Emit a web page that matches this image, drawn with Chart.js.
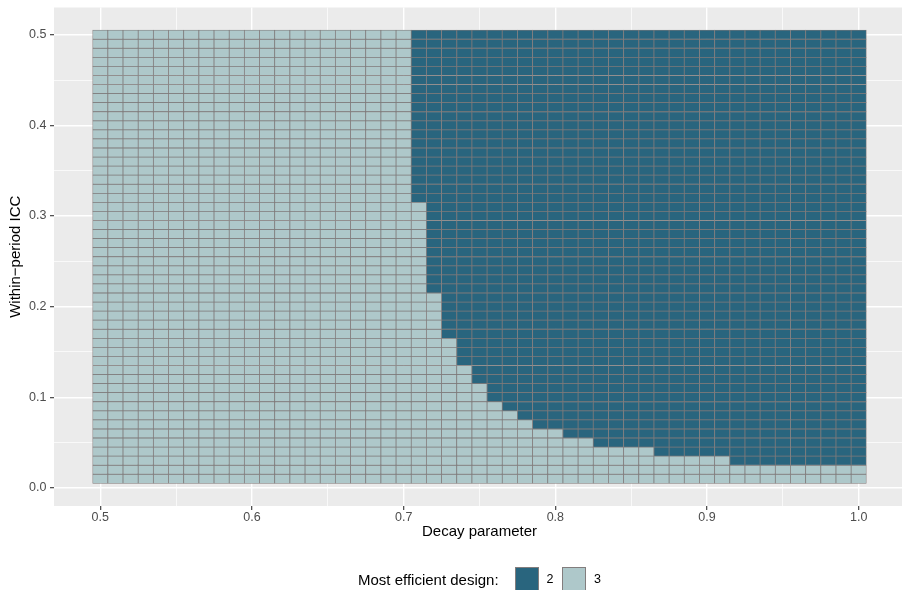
<!DOCTYPE html>
<html>
<head>
<meta charset="utf-8">
<script src="https://cdn.jsdelivr.net/npm/chart.js@4"></script>
<style>
    html, body { margin: 0; padding: 0; background: #ffffff; overflow: hidden; }
    #wrap { position: relative; width: 906px; height: 590px; font-family: "Liberation Sans", Arial, sans-serif; }
    .lg { position: absolute; white-space: nowrap; line-height: 1; color: #000000; }
    .key { position: absolute; top: 567px; width: 24px; height: 24px; box-sizing: border-box; border: 1px solid #827d7d; }
</style>
</head>
<body>
<div id="wrap">
    <canvas id="tiles" width="906" height="590"></canvas>
    <div class="lg" style="left:358px; top:572px; font-size:15px;">Most efficient design:</div>
    <div class="key" id="key_2" style="left:515px;"></div>
    <div class="lg" style="left:546.5px; top:573px; font-size:12.5px;">2</div>
    <div class="key" id="key_3" style="left:562px;"></div>
    <div class="lg" style="left:594px; top:573px; font-size:12.5px;">3</div>
</div>
<script>
// Tile centres
const decay = [0.50, 0.51, 0.52, 0.53, 0.54, 0.55, 0.56, 0.57, 0.58, 0.59,
               0.60, 0.61, 0.62, 0.63, 0.64, 0.65, 0.66, 0.67, 0.68, 0.69,
               0.70, 0.71, 0.72, 0.73, 0.74, 0.75, 0.76, 0.77, 0.78, 0.79,
               0.80, 0.81, 0.82, 0.83, 0.84, 0.85, 0.86, 0.87, 0.88, 0.89,
               0.90, 0.91, 0.92, 0.93, 0.94, 0.95, 0.96, 0.97, 0.98, 0.99, 1.00];
const icc = [0.01, 0.02, 0.03, 0.04, 0.05, 0.06, 0.07, 0.08, 0.09, 0.10,
             0.11, 0.12, 0.13, 0.14, 0.15, 0.16, 0.17, 0.18, 0.19, 0.20,
             0.21, 0.22, 0.23, 0.24, 0.25, 0.26, 0.27, 0.28, 0.29, 0.30,
             0.31, 0.32, 0.33, 0.34, 0.35, 0.36, 0.37, 0.38, 0.39, 0.40,
             0.41, 0.42, 0.43, 0.44, 0.45, 0.46, 0.47, 0.48, 0.49, 0.50];

// Lowest ICC where design 2 wins, for each decay value (null = design 3 everywhere)
const design2From = [null, null, null, null, null, null, null, null, null, null,
                     null, null, null, null, null, null, null, null, null, null,
                     null, 0.32, 0.22, 0.17, 0.14, 0.12, 0.10, 0.09, 0.08, 0.07,
                     0.07, 0.06, 0.06, 0.05, 0.05, 0.05, 0.05, 0.04, 0.04, 0.04,
                     0.04, 0.04, 0.03, 0.03, 0.03, 0.03, 0.03, 0.03, 0.03, 0.03, 0.03];

const designs = ['2', '3'];
const xTicks = [0.50, 0.55, 0.60, 0.65, 0.70, 0.75, 0.80, 0.85, 0.90, 0.95, 1.00];
const yTicks = [0.00, 0.05, 0.10, 0.15, 0.20, 0.25, 0.30, 0.35, 0.40, 0.45, 0.50];

const designColors = {'2': '#29657e', '3': '#aec8ca'};
const tileBorder = '#7f7a7a';

document.getElementById('key_2').style.background = designColors[designs[0]];
document.getElementById('key_3').style.background = designColors[designs[1]];

Chart.defaults.font.family = '"Liberation Sans", Arial, sans-serif';

const designAt = (i, y) => (design2From[i] !== null && y >= design2From[i]) ? designs[0] : designs[1];

// One dataset per ICC row
const datasets = icc.map((y) =>
({
    data: decay.map((x) => ({x: x, y: [y - 0.005, y + 0.005]}))
    ,backgroundColor: decay.map((x, i) => designColors[designAt(i, y)])
    ,borderColor: tileBorder
    ,borderWidth: 0.75
    ,borderSkipped: false
    ,grouped: false
    ,barPercentage: 1
    ,categoryPercentage: 1
}));

const panelBackground =
{
    id: 'panelBackground'
    ,beforeDraw(chart)
    {
        const {ctx, chartArea: a} = chart;
        ctx.save();
        ctx.fillStyle = '#ebebeb';
        ctx.fillRect(a.left, a.top, a.right - a.left, a.bottom - a.top);
        ctx.restore();
    }
};

const gridOptions =
{
    offset: false
    ,color: '#ffffff'
    ,lineWidth: (c) => c.index % 2 ? 0.7 : 1.4
    ,tickColor: (c) => c.index % 2 ? 'rgba(0,0,0,0)' : '#333333'
    ,tickWidth: 1.1
    ,tickLength: 4
};

// keep the chart area where the panel is, not where the end labels would push it
const noEdgePadding = (s) =>
{
    s.paddingTop = 0;
    s.paddingBottom = 0;
    s.paddingLeft = 0;
    s.paddingRight = 0;
};

new Chart(document.getElementById('tiles'),
{
    type: 'bar'
    ,data: {datasets: datasets}
    ,plugins: [panelBackground]
    ,options:
    {
        responsive: false
        ,animation: false
        ,events: []
        ,layout: {padding: {left: 0, top: 7.5, right: 1, bottom: 44}}
        ,plugins: {legend: {display: false}, tooltip: {enabled: false}}
        ,scales:
        {
            x: {
                type: 'linear'
                ,offset: false
                ,min: 0.4695
                ,max: 1.0305
                ,grid: gridOptions
                ,border: {display: false}
                ,afterBuildTicks: (s) => { s.ticks = xTicks.map((v) => ({value: v})); }
                ,afterFit: (s) => { s.height = 40; noEdgePadding(s); }
                ,ticks: {
                    autoSkip: false, maxRotation: 0, padding: 0, color: '#4d4d4d', font: {size: 12.5}
                    ,callback: (v, i) => i % 2 ? '' : v.toFixed(1)
                }
                ,title: {display: true, text: 'Decay parameter', color: '#000000', font: {size: 15}, padding: {top: 0, bottom: 5}}
            }
            ,y: {
                type: 'linear'
                ,min: -0.02
                ,max: 0.53
                ,grid: gridOptions
                ,border: {display: false}
                ,afterBuildTicks: (s) => { s.ticks = yTicks.map((v) => ({value: v})); }
                ,afterFit: (s) => { s.width = 54; noEdgePadding(s); }
                ,ticks: {
                    autoSkip: false, padding: 3.5, color: '#4d4d4d', font: {size: 12.5}
                    ,callback: (v, i) => i % 2 ? '' : v.toFixed(1)
                }
                ,title: {display: true, text: 'Within−period ICC', color: '#000000', font: {size: 15}, padding: {top: 6.5, bottom: 0}}
            }
        }
    }
});
</script>
</body>
</html>
